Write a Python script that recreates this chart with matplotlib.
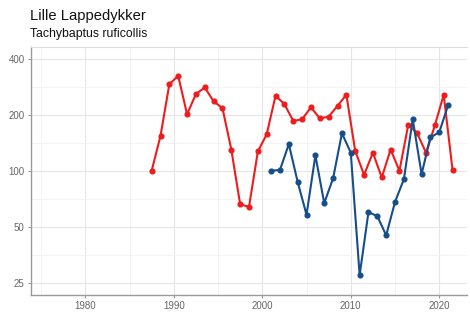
import matplotlib
matplotlib.use("Agg")
import matplotlib.pyplot as plt
import numpy as np
from matplotlib.ticker import FixedLocator, NullFormatter

plt.rcParams['font.family'] = ['Liberation Sans', 'DejaVu Sans']

# Red series (plotted mid-season)
red_years = [1987, 1988, 1989, 1990, 1991, 1992, 1993, 1994, 1995, 1996,
             1997, 1998, 1999, 2000, 2001, 2002, 2003, 2004, 2005, 2006,
             2007, 2008, 2009, 2010, 2011, 2012, 2013, 2014, 2015, 2016,
             2017, 2018, 2019, 2020, 2021]
red_values = [100, 154, 292, 323, 201, 258, 280, 236, 217, 130,
              66, 64, 127, 157, 253, 228, 185, 189, 219, 191,
              195, 223, 256, 128, 95, 125, 92, 130, 100, 177,
              159, 125, 175, 256, 101]

# Blue series
blue_years = [2001, 2002, 2003, 2004, 2005, 2006, 2007, 2008, 2009, 2010,
              2011, 2012, 2013, 2014, 2015, 2016, 2017, 2018, 2019, 2020, 2021]
blue_values = [100, 101, 139, 87, 58, 121, 67, 91, 159, 125,
               27.5, 60, 57, 45, 68, 90, 189, 96, 151, 161, 225]

y_ticks = [25, 50, 100, 200, 400]
x_ticks = [1980, 1990, 2000, 2010, 2020]

title = "Lille Lappedykker"
subtitle = "Tachybaptus ruficollis"

fig = plt.figure(figsize=(4.7, 3.12), dpi=100)
ax = fig.add_axes([0.0653, 0.0555, 0.9277, 0.7945])

red_col = '#EE1C1C'
blue_col = '#154E8A'

ax.plot(np.array(red_years) + 0.5, red_values, color=red_col, lw=1.5,
        marker='o', ms=3.4, zorder=3)
ax.plot(blue_years, blue_values, color=blue_col, lw=1.5,
        marker='o', ms=3.4, zorder=4)

ax.set_yscale('log')
ax.set_xlim(1973.83, 2023.1)
ax.set_ylim(21.6, 463)

ax.yaxis.set_major_locator(FixedLocator(y_ticks))
ax.set_yticklabels([str(t) for t in y_ticks])
ax.yaxis.set_minor_locator(FixedLocator([t * np.sqrt(2) for t in y_ticks]))
ax.yaxis.set_minor_formatter(NullFormatter())
ax.xaxis.set_major_locator(FixedLocator(x_ticks))
ax.set_xticklabels([str(t) for t in x_ticks])
ax.xaxis.set_minor_locator(FixedLocator([t + 5 for t in [1970] + x_ticks]))

ax.grid(which='major', color='#E6E6E6', lw=0.8, zorder=0)
ax.grid(which='minor', color='#F3F3F3', lw=0.6, zorder=0)
ax.set_axisbelow(True)

for s in ['left', 'bottom']:
    ax.spines[s].set_color('#9A9A9A')
    ax.spines[s].set_linewidth(1.0)
ax.spines['top'].set_color('#DDDDDD')
ax.spines['top'].set_linewidth(0.8)
ax.spines['right'].set_visible(False)

ax.tick_params(which='major', axis='both', length=2.5, width=0.8,
               color='#9A9A9A', labelsize=7, labelcolor='#666666', pad=2)
ax.tick_params(which='minor', length=0)

fig.text(30 / 470, 1 - 20 / 312, title, fontsize=10.6, color='#111111',
         ha='left', va='baseline')
fig.text(30 / 470, 1 - 36.7 / 312, subtitle, fontsize=8.8, color='#111111',
         ha='left', va='baseline')

fig.savefig('out.png', dpi=100)
